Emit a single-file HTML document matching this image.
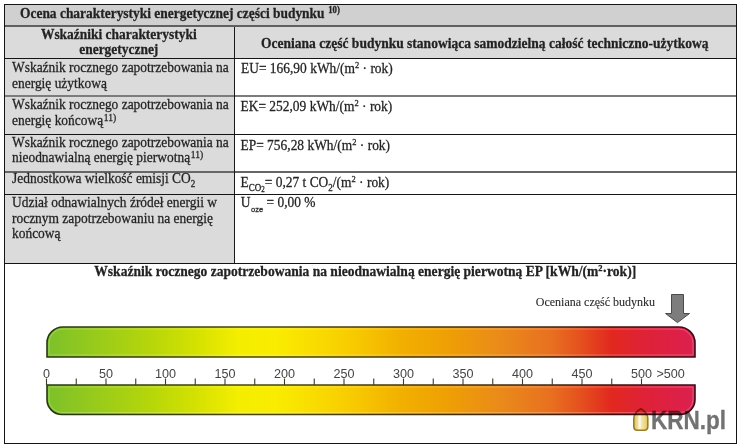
<!DOCTYPE html>
<html><head><meta charset="utf-8">
<style>
*{margin:0;padding:0;box-sizing:border-box}
html,body{width:740px;height:447px;overflow:hidden;background:#fff}
body{position:relative;font-family:"Liberation Serif",serif;color:#222}
.a{position:absolute}
.t{-webkit-text-stroke:0.25px #262626;position:absolute;font-size:13.45px;line-height:20px;white-space:nowrap;transform:scaleY(1.07)}
.b{font-weight:bold}
sup{font-size:8.5px;vertical-align:0;position:relative;top:-5px}
sup.st{left:0.3px;font-size:8.8px;top:-4.8px}
sup.fn{font-size:9.6px;top:-4.2px;left:0.6px}
sub.s2{font-size:9px;vertical-align:0;position:relative;top:4px}
.s3{font-size:7px;position:relative;top:1px}
sub.oze{font-family:"Liberation Sans",sans-serif;font-size:7.5px;vertical-align:0;position:relative;top:5px;margin-left:0.5px;-webkit-text-stroke:0.3px #333}
.hl{position:absolute;height:1px;background:#141414}
.vl{position:absolute;width:1px;background:#1a1a1a}
.lb{position:absolute;top:366.8px;width:40px;text-align:center;font:12.6px/14px "Liberation Sans",sans-serif;color:#444}
</style></head><body>
<!-- backgrounds -->
<div class="a" style="left:5px;top:5px;width:731px;height:20px;background:#d0d0d0"></div>
<div class="a" style="left:5px;top:27px;width:731px;height:31px;background:#dbdbdb"></div>
<div class="a" style="left:5px;top:59px;width:229px;height:204px;background:#dbdbdb"></div>
<!-- lines -->
<div class="a" style="left:4px;top:4px;width:733px;height:440px;border:1px solid #141414"></div>
<div class="hl" style="left:5px;top:25px;width:731px;height:2px;background:#606060"></div>
<div class="hl" style="left:5px;top:58px;width:731px"></div>
<div class="hl" style="left:5px;top:95px;width:731px;height:2px;background:#7c7c7c"></div>
<div class="hl" style="left:5px;top:134px;width:731px"></div>
<div class="hl" style="left:5px;top:171px;width:731px;height:2px;background:#666"></div>
<div class="hl" style="left:5px;top:194px;width:731px"></div>
<div class="hl" style="left:5px;top:263px;width:731px"></div>
<div class="vl" style="left:234px;top:27px;height:236px"></div>

<!-- TEXT -->
<div class="t b" style="left:20px;top:3.56px;transform-origin:0 14.54px">Ocena charakterystyki energetycznej części budynku <sup class="st">10)</sup></div>
<div class="t b" style="left:4.3px;top:25.06px;width:229px;text-align:center;transform-origin:0 14.54px">Wskaźniki charakterystyki</div>
<div class="t b" style="left:4.3px;top:40.36px;width:229px;text-align:center;transform-origin:0 14.54px">energetycznej</div>
<div class="t b" style="left:234.3px;top:33.74px;font-size:13.52px;width:501px;text-align:center;transform-origin:0 14.56px">Oceniana część budynku stanowiąca samodzielną całość techniczno-użytkową</div>
<div class="t" style="left:12px;top:57.86px;transform-origin:0 14.54px">Wskaźnik rocznego zapotrzebowania na</div>
<div class="t" style="left:12px;top:73.66px;transform-origin:0 14.54px">energię użytkową</div>
<div class="t" style="left:12px;top:95.16px;transform-origin:0 14.54px">Wskaźnik rocznego zapotrzebowania na</div>
<div class="t" style="left:12px;top:110.96px;transform-origin:0 14.54px">energię końcową<sup class="fn">11)</sup></div>
<div class="t" style="left:12px;top:132.86px;transform-origin:0 14.54px">Wskaźnik rocznego zapotrzebowania na</div>
<div class="t" style="left:12px;top:148.46px;transform-origin:0 14.54px">nieodnawialną energię pierwotną<sup class="fn">11)</sup></div>
<div class="t" style="left:12px;top:169.36px;transform-origin:0 14.54px">Jednostkowa wielkość emisji CO<sub class="s2">2</sub></div>
<div class="t" style="left:12px;top:192.76px;transform-origin:0 14.54px">Udział odnawialnych źródeł energii w</div>
<div class="t" style="left:12px;top:208.66px;transform-origin:0 14.54px">rocznym zapotrzebowaniu na energię</div>
<div class="t" style="left:12px;top:224.26px;transform-origin:0 14.54px">końcową</div>
<div class="t" style="left:241px;top:59.16px;transform-origin:0 14.54px">EU= 166,90 kWh/(m<sup>2</sup> · rok)</div>
<div class="t" style="left:240.5px;top:97.46px;transform-origin:0 14.54px">EK= 252,09 kWh/(m<sup>2</sup> · rok)</div>
<div class="t" style="left:240.5px;top:135.76px;transform-origin:0 14.54px">EP= 756,28 kWh/(m<sup>2</sup> · rok)</div>
<div class="t" style="left:240.5px;top:172.56px;transform-origin:0 14.54px">E<sub class="s2">CO<span class="s3">2</span></sub>= 0,27 t CO<sub class="s2">2</sub>/(m<sup>2</sup> · rok)</div>
<div class="t" style="left:240.8px;top:193.16px;transform-origin:0 14.54px">U<sub class="oze">oze</sub> = 0,00 %</div>
<div class="t b" style="left:94.3px;top:262.03px;font-size:13.55px;transform-origin:0 14.57px">Wskaźnik rocznego zapotrzebowania na nieodnawialną energię pierwotną EP [kWh/(m<sup>2</sup>·rok)]</div>
<div class="t" style="left:535.8px;top:292.15px;font-size:12.0px;-webkit-text-stroke:0.12px #333;color:#2b2b2b;transform-origin:0 14.05px">Oceniana część budynku</div>
<!-- /TEXT -->

<!-- arrow -->
<svg class="a" style="left:660px;top:290px" width="40" height="40" viewBox="660 290 40 40">
<path d="M671.5 294.5 H683.5 V313.5 H689.5 L677.5 322.6 L665.5 313.5 H671.5 Z" fill="#7d7d7d" stroke="#4a4a4a" stroke-width="1"/>
</svg>

<!-- bars -->
<svg class="a" style="left:0;top:0" width="740" height="447" viewBox="0 0 740 447">
<defs>
<linearGradient id="g" x1="46" y1="0" x2="696" y2="0" gradientUnits="userSpaceOnUse">
<stop offset="0" stop-color="#7cc02a"/>
<stop offset="0.16" stop-color="#b6d60a"/>
<stop offset="0.235" stop-color="#d6e200"/>
<stop offset="0.295" stop-color="#f4ee00"/>
<stop offset="0.355" stop-color="#f9ec00"/>
<stop offset="0.42" stop-color="#f9da00"/>
<stop offset="0.468" stop-color="#f8cc00"/>
<stop offset="0.545" stop-color="#f2b000"/>
<stop offset="0.623" stop-color="#ee9e05"/>
<stop offset="0.7" stop-color="#ea8a1a"/>
<stop offset="0.777" stop-color="#e87020"/>
<stop offset="0.82" stop-color="#e5521e"/>
<stop offset="0.87" stop-color="#e2281f"/>
<stop offset="0.915" stop-color="#df2235"/>
<stop offset="0.975" stop-color="#dd2048"/>
<stop offset="1" stop-color="#da2150"/>
</linearGradient>
<linearGradient id="gd" x1="46" y1="0" x2="696" y2="0" gradientUnits="userSpaceOnUse">
<stop offset="0" stop-color="#25390c"/>
<stop offset="0.16" stop-color="#364003"/>
<stop offset="0.235" stop-color="#404300"/>
<stop offset="0.295" stop-color="#494700"/>
<stop offset="0.355" stop-color="#4a4600"/>
<stop offset="0.42" stop-color="#4a4100"/>
<stop offset="0.468" stop-color="#4a3d00"/>
<stop offset="0.545" stop-color="#483400"/>
<stop offset="0.623" stop-color="#472f01"/>
<stop offset="0.7" stop-color="#462907"/>
<stop offset="0.777" stop-color="#452109"/>
<stop offset="0.82" stop-color="#441809"/>
<stop offset="0.87" stop-color="#430c09"/>
<stop offset="0.915" stop-color="#420a0f"/>
<stop offset="0.975" stop-color="#420915"/>
<stop offset="1" stop-color="#410918"/>
</linearGradient>
<linearGradient id="gl" x1="46" y1="0" x2="696" y2="0" gradientUnits="userSpaceOnUse">
<stop offset="0" stop-color="#9ccf5f"/>
<stop offset="0.16" stop-color="#c8e047"/>
<stop offset="0.235" stop-color="#e0e93f"/>
<stop offset="0.295" stop-color="#f6f23f"/>
<stop offset="0.355" stop-color="#faf03f"/>
<stop offset="0.42" stop-color="#fae33f"/>
<stop offset="0.468" stop-color="#f9d83f"/>
<stop offset="0.545" stop-color="#f5c33f"/>
<stop offset="0.623" stop-color="#f2b643"/>
<stop offset="0.7" stop-color="#efa753"/>
<stop offset="0.777" stop-color="#ed9357"/>
<stop offset="0.82" stop-color="#eb7d56"/>
<stop offset="0.87" stop-color="#e95d57"/>
<stop offset="0.915" stop-color="#e75967"/>
<stop offset="0.975" stop-color="#e55775"/>
<stop offset="1" stop-color="#e3587b"/>
</linearGradient>
</defs>
<path d="M47 357 V343 A16 16 0 0 1 63 327 H679 A16 16 0 0 1 695 343 V357 Z" fill="url(#g)"/>
<path d="M49 355 V343 A14 14 0 0 1 63 329 H679 A14 14 0 0 1 693 343 V355 Z" fill="none" stroke="url(#gl)" stroke-width="1"/>
<path d="M47 357 V343 A16 16 0 0 1 63 327 H679 A16 16 0 0 1 695 343 V357 Z" fill="none" stroke="url(#gd)" stroke-width="1.6"/>
<path d="M47 385 V399.5 A15 15 0 0 0 62 414.5 H680 A15 15 0 0 0 695 399.5 V385 Z" fill="url(#g)"/>
<path d="M49 387 V399.5 A13 13 0 0 0 62 412.5 H680 A13 13 0 0 0 693 399.5 V387 Z" fill="none" stroke="url(#gl)" stroke-width="1"/>
<path d="M47 385 V399.5 A15 15 0 0 0 62 414.5 H680 A15 15 0 0 0 695 399.5 V385 Z" fill="none" stroke="url(#gd)" stroke-width="1.6"/>
<g stroke="#3a3a2a" stroke-width="1.1">
<line x1="46.50" y1="378.5" x2="46.50" y2="385"/>
<line x1="76.25" y1="378.5" x2="76.25" y2="385"/>
<line x1="106.00" y1="378.5" x2="106.00" y2="385"/>
<line x1="135.75" y1="378.5" x2="135.75" y2="385"/>
<line x1="165.50" y1="378.5" x2="165.50" y2="385"/>
<line x1="195.25" y1="378.5" x2="195.25" y2="385"/>
<line x1="225.00" y1="378.5" x2="225.00" y2="385"/>
<line x1="254.75" y1="378.5" x2="254.75" y2="385"/>
<line x1="284.50" y1="378.5" x2="284.50" y2="385"/>
<line x1="314.25" y1="378.5" x2="314.25" y2="385"/>
<line x1="344.00" y1="378.5" x2="344.00" y2="385"/>
<line x1="373.75" y1="378.5" x2="373.75" y2="385"/>
<line x1="403.50" y1="378.5" x2="403.50" y2="385"/>
<line x1="433.25" y1="378.5" x2="433.25" y2="385"/>
<line x1="463.00" y1="378.5" x2="463.00" y2="385"/>
<line x1="492.75" y1="378.5" x2="492.75" y2="385"/>
<line x1="522.50" y1="378.5" x2="522.50" y2="385"/>
<line x1="552.25" y1="378.5" x2="552.25" y2="385"/>
<line x1="582.00" y1="378.5" x2="582.00" y2="385"/>
<line x1="611.75" y1="378.5" x2="611.75" y2="385"/>
<line x1="641.50" y1="378.5" x2="641.50" y2="385"/>
</g>
</svg>
<div class="lb" style="left:26.50px">0</div>
<div class="lb" style="left:86.00px">50</div>
<div class="lb" style="left:145.50px">100</div>
<div class="lb" style="left:205.00px">150</div>
<div class="lb" style="left:264.50px">200</div>
<div class="lb" style="left:324.00px">250</div>
<div class="lb" style="left:383.50px">300</div>
<div class="lb" style="left:443.00px">350</div>
<div class="lb" style="left:502.50px">400</div>
<div class="lb" style="left:562.00px">450</div>
<div class="lb" style="left:621.50px">500</div>
<div class="lb" style="left:656.5px;width:auto;text-align:left">&gt;500</div>
<!-- logo -->
<svg class="a" style="left:630px;top:405px;mix-blend-mode:multiply" width="22" height="30" viewBox="630 405 22 30">
<defs><linearGradient id="hg" x1="0" y1="0" x2="1" y2="0">
<stop offset="0" stop-color="#dcc160"/><stop offset="0.45" stop-color="#f9efc0"/><stop offset="1" stop-color="#e2c862"/></linearGradient></defs>
<path d="M640.8 408.7 C638 410.2 634.2 413.6 633.8 418 L633.8 426.6 Q633.8 430.2 637.2 430.2 L644.4 430.2 Q647.8 430.2 647.8 426.6 L647.8 418 C647.4 413.6 643.6 410.2 640.8 408.7 Z" fill="url(#hg)" stroke="#9c7e26" stroke-width="1.6"/>
<path d="M639.6 415 V428.5" stroke="#fffef8" stroke-width="2.2" opacity="0.75"/>
</svg>
<div class="a" style="left:651.1px;top:405.1px;font:bold 25px/30px 'Liberation Sans',sans-serif;color:#727272;-webkit-text-stroke:0.3px #727272;mix-blend-mode:multiply;transform:scaleX(0.9);transform-origin:0 0;white-space:nowrap">KRN.pl</div>
</body></html>
